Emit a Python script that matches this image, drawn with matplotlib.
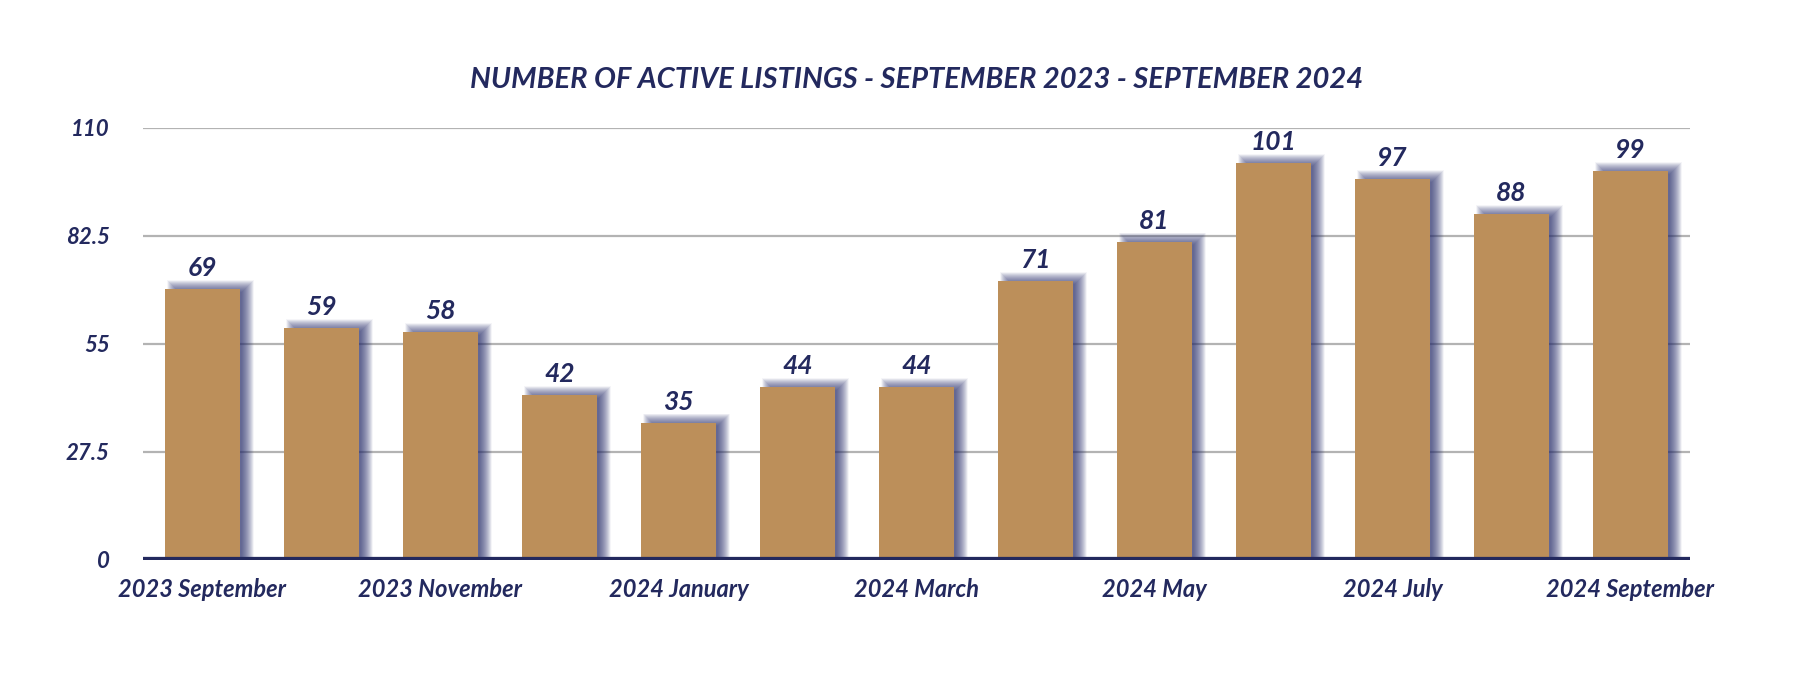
import matplotlib
matplotlib.use("Agg")
import matplotlib.pyplot as plt
import numpy as np

months = ["2023 September", "2023 October", "2023 November", "2023 December",
          "2024 January", "2024 February", "2024 March", "2024 April",
          "2024 May", "2024 June", "2024 July", "2024 August", "2024 September"]
listings = [69, 59, 58, 42, 35, 44, 44, 71, 81, 101, 97, 88, 99]
y_ticks = [0, 27.5, 55, 82.5, 110]
y_tick_labels = ["0", "27.5", "55", "82.5", "110"]
title = "NUMBER OF ACTIVE LISTINGS - SEPTEMBER 2023 - SEPTEMBER 2024"

NAVY = "#23295E"
TAN = "#BC8F5A"
GRID = "#B3B3B3"
FONT = "Lato"

fig = plt.figure(figsize=(18, 6.74), dpi=100)
ax = fig.add_axes([143 / 1800, 1 - 560 / 674, 1547 / 1800, 432 / 674])

x = np.arange(len(months))
width = 0.63

ax.set_xlim(-0.5, len(months) - 0.5)
ax.set_ylim(0, 110)

# pixel -> data conversions
px_x = 1.0 / 119.0
px_y = 110.0 / 432.0

# gridlines
for yt in y_ticks[1:]:
    ax.axhline(yt, color=GRID, lw=1.6, zorder=0)

# blurred shadow (layered translucent bars)
dx = 8 * px_x
dy = 3 * px_y
vals = np.array(listings, dtype=float)
for p in np.linspace(6, -6, 25):
    ax.bar(x + dx, vals + dy + p * px_y, width=width + 2 * p * px_x,
           bottom=0, color="#2B3170", alpha=0.047, linewidth=0, zorder=1)

ax.bar(x, listings, width=width, color=TAN, linewidth=0, zorder=3)

# baseline
ax.axhline(0, color=NAVY, lw=4.5, zorder=4, solid_capstyle="butt")

# value labels
for xi, v in zip(x, listings):
    ax.annotate(str(v), (xi, v), xytext=(0, 6.5), textcoords="offset points",
                ha="center", va="bottom", fontsize=19, fontweight="bold",
                fontstyle="italic", color=NAVY, family=FONT)

ax.set_xticks(x[::2])
ax.set_xticklabels(months[::2], fontsize=17, fontweight="bold", fontstyle="italic",
                   color=NAVY, family=FONT)
ax.set_yticks(y_ticks)
ax.set_yticklabels(y_tick_labels, fontsize=16, fontweight="bold", fontstyle="italic",
                   color=NAVY, family=FONT)
ax.tick_params(axis="both", length=0)
ax.tick_params(axis="x", pad=13)
ax.tick_params(axis="y", pad=24)
for s in ax.spines.values():
    s.set_visible(False)

fig.text(917 / 1800, 1 - 80 / 674, title, ha="center", va="center", fontsize=21,
         fontweight="bold", fontstyle="italic", color=NAVY, family=FONT)

fig.savefig("out.png", dpi=100, facecolor="white")
